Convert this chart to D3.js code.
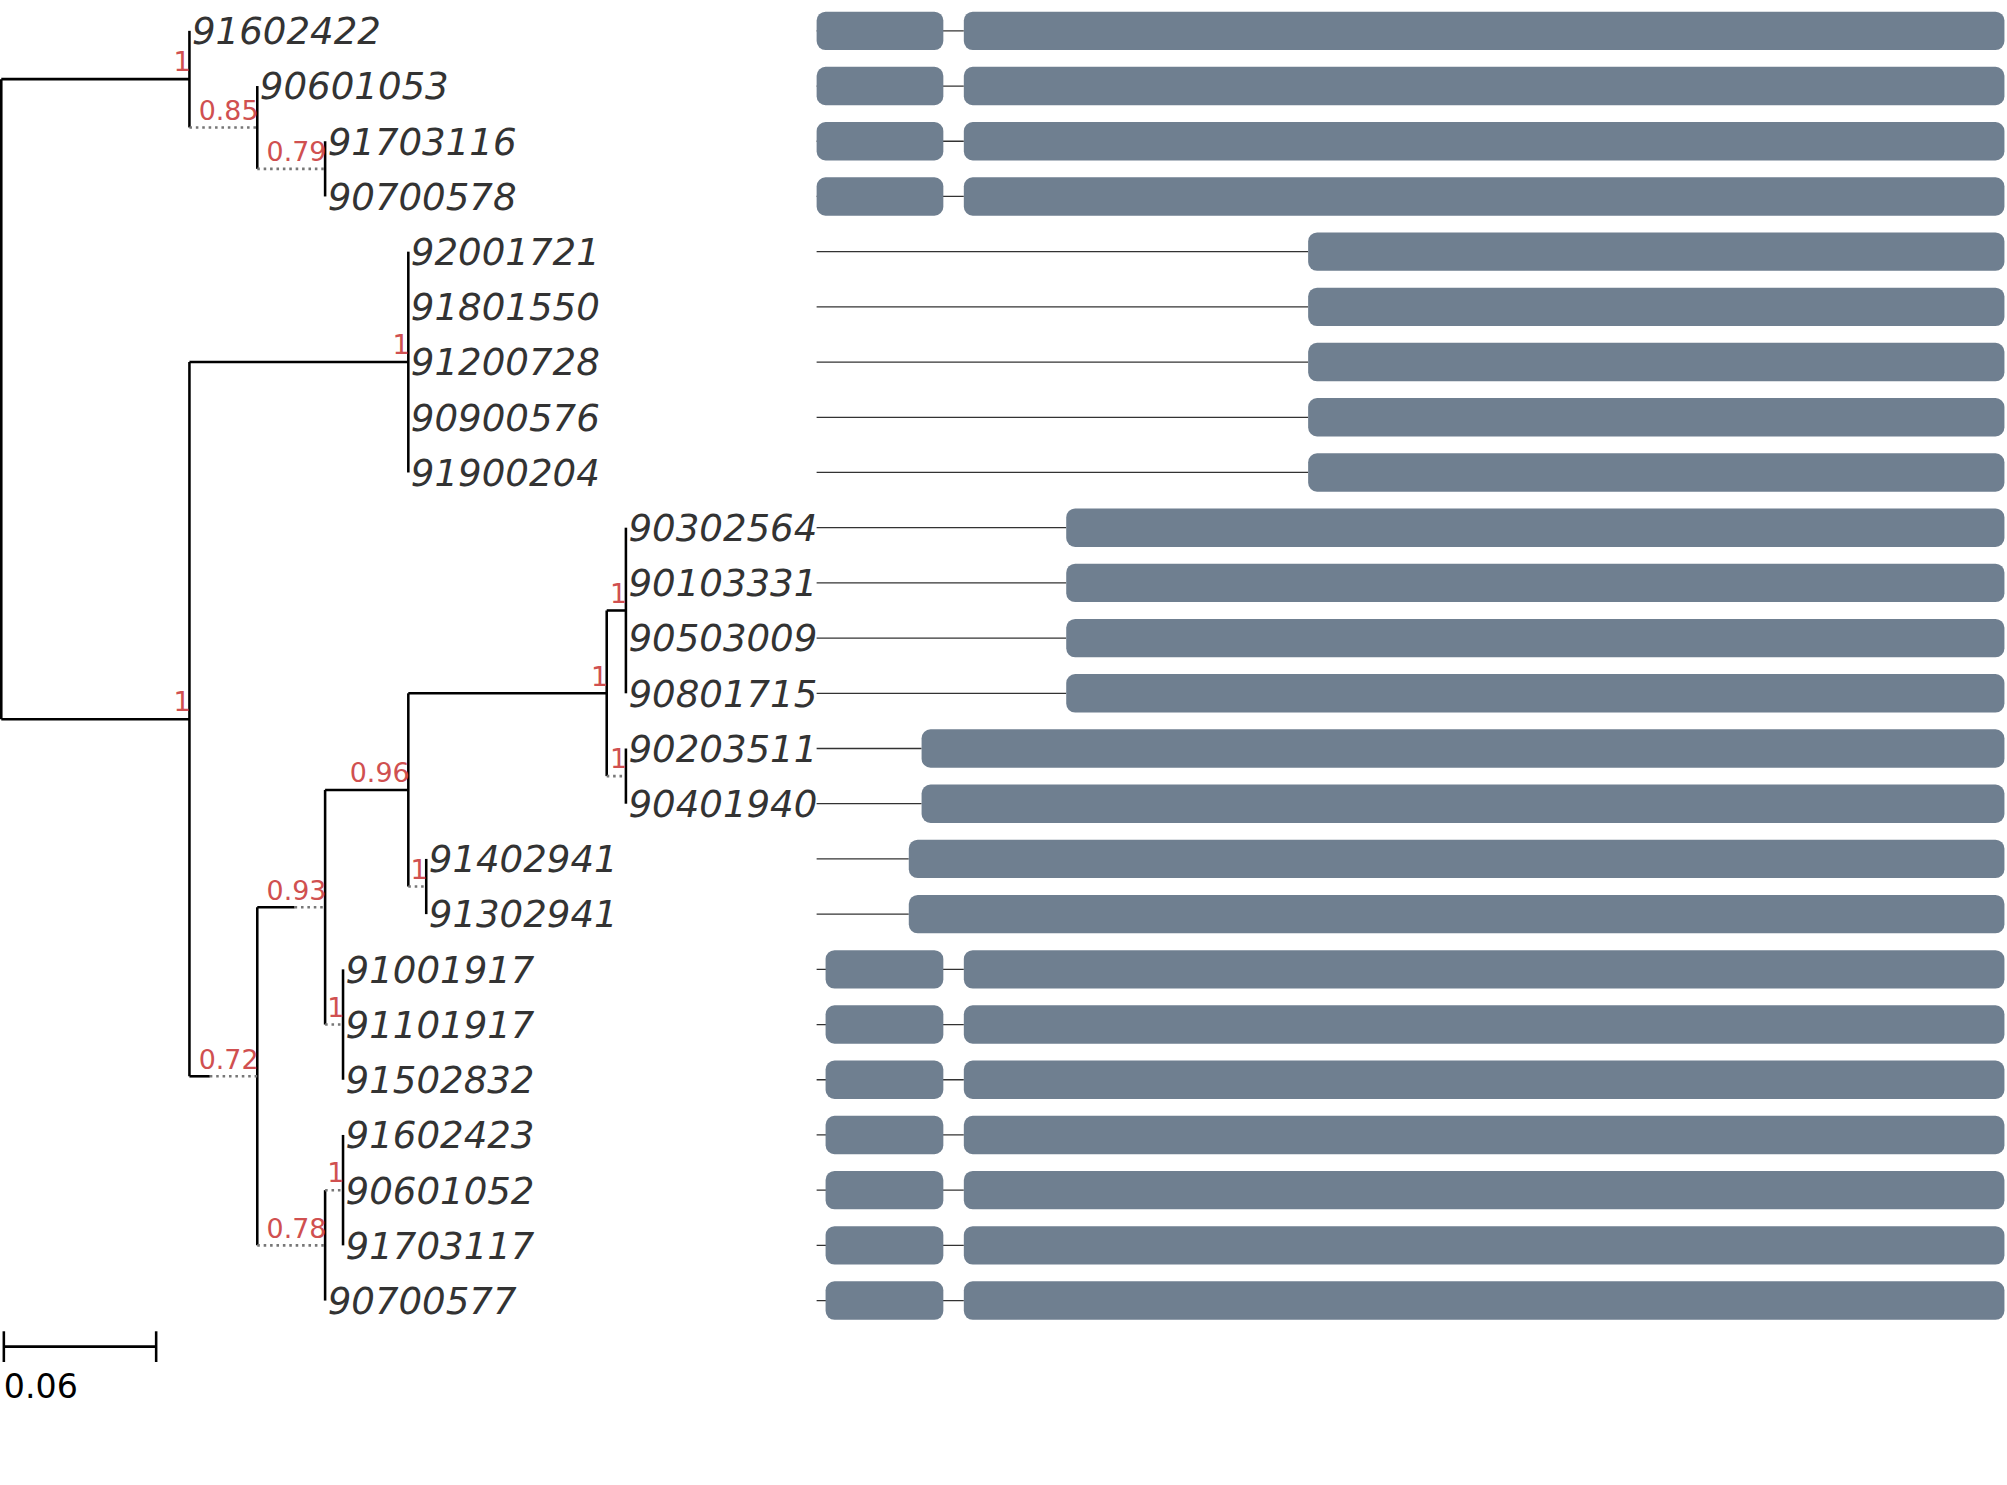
<!DOCTYPE html><html><head><meta charset="utf-8">
<script src="https://cdn.jsdelivr.net/npm/d3@7"></script>
<style>body{margin:0;background:#fff}</style></head><body>
<script>
// Tip order (top to bottom)
const tips=["91602422","90601053","91703116","90700578","92001721","91801550","91200728","90900576","91900204","90302564","90103331","90503009","90801715","90203511","90401940","91402941","91302941","91001917","91101917","91502832","91602423","90601052","91703117","90700577"];
// Tree: [name/support, branch length, children, dotted]
const tree={s:"",len:0,c:[
 {s:"1",len:0.0735,c:[{t:0,len:0},{s:"0.85",len:0.0265,dot:1,c:[{t:1,len:0},{s:"0.79",len:0.0265,dot:1,c:[{t:2,len:0},{t:3,len:0}]}]}]},
 {s:"1",len:0.0735,c:[
   {s:"1",len:0.0855,c:[{t:4,len:0},{t:5,len:0},{t:6,len:0},{t:7,len:0},{t:8,len:0}]},
   {s:"0.72",len:0.0265,dot:0.7,c:[
     {s:"0.93",len:0.0265,dot:0.45,c:[
       {s:"0.96",len:0.0325,c:[
         {s:"1",len:0.0775,c:[
           {s:"1",len:0.0075,c:[{t:9,len:0},{t:10,len:0},{t:11,len:0},{t:12,len:0}]},
           {s:"1",len:0.0075,dot:1,c:[{t:13,len:0},{t:14,len:0}]}]},
         {s:"1",len:0.007,dot:1,c:[{t:15,len:0},{t:16,len:0}]}]},
       {s:"1",len:0.007,dot:1,c:[{t:17,len:0},{t:18,len:0},{t:19,len:0}]}]},
     {s:"0.78",len:0.0265,dot:1,c:[
       {s:"1",len:0.007,dot:1,c:[{t:20,len:0},{t:21,len:0},{t:22,len:0}]},
       {t:23,len:0}]}]}]}]};
// Gene segments per tip, in track units (0..928)
const geneTypeA=[[0,99],[115,928]], geneTypeB=[[7,99],[115,928]];
const genes=[geneTypeA,geneTypeA,geneTypeA,geneTypeA,
 [[384,928]],[[384,928]],[[384,928]],[[384,928]],[[384,928]],
 [[195,928]],[[195,928]],[[195,928]],[[195,928]],
 [[82,928]],[[82,928]],[[72,928]],[[72,928]],
 geneTypeB,geneTypeB,geneTypeB,geneTypeB,geneTypeB,geneTypeB,geneTypeB];
const scaleBarValue=0.06;

const W=1568,H=1160;
const svg=d3.select("body").append("svg").attr("width",2007).attr("height",1485).attr("viewBox",`0 0 ${W} ${H}`);
const x=d3.scaleLinear().domain([0,0.06]).range([1,121]);
const y=d3.scaleLinear().domain([0,23]).range([24,1016]);
const gx=d3.scaleLinear().domain([0,928]).range([638,1566]);

const root=d3.hierarchy(tree,d=>d.c);
root.eachBefore(n=>{n.d=(n.parent?n.parent.d:0)+n.data.len;});
root.eachAfter(n=>{if(n.children){n.yy=(n.children[0].yy+n.children[n.children.length-1].yy)/2;}else n.yy=y(n.data.t);});
const g=svg.append("g");
root.each(n=>{
 if(n.children){
   g.append("line").attr("x1",x(n.d)).attr("x2",x(n.d)).attr("y1",n.children[0].yy).attr("y2",n.children[n.children.length-1].yy).attr("stroke","#000").attr("stroke-width",2);
 }
 if(n.parent&&n.data.len>0){
   const x0=x(n.parent.d),x1=x(n.d);
   if(n.data.dot){
     const xm=x0+(x1-x0)*(1-n.data.dot);
     if(xm>x0) g.append("line").attr("x1",x0).attr("x2",xm).attr("y1",n.yy).attr("y2",n.yy).attr("stroke","#000").attr("stroke-width",2);
     g.append("line").attr("x1",xm).attr("x2",x1).attr("y1",n.yy).attr("y2",n.yy).attr("stroke","#777").attr("stroke-width",2).attr("stroke-dasharray","2,3");
   } else g.append("line").attr("x1",x0).attr("x2",x1).attr("y1",n.yy).attr("y2",n.yy).attr("stroke","#000").attr("stroke-width",2);
 }
 if(n.children&&n.data.s){
   g.append("text").attr("x",x(n.d)+1).attr("y",n.yy-6).attr("text-anchor","end").attr("fill","#d05050").attr("font-family","DejaVu Sans").attr("font-size",21).text(n.data.s);
 }
});
root.leaves().forEach(n=>{
 g.append("text").attr("x",x(n.d)+2).attr("y",n.yy).attr("dy","0.36em").attr("font-family","DejaVu Sans").attr("font-style","italic").attr("font-size",29).attr("fill","#333").attr("textLength",null).text(tips[n.data.t]);
});
// genes
const gg=svg.append("g");
genes.forEach((segs,i)=>{
 const yy=y(i);
 gg.append("line").attr("x1",gx(0)).attr("x2",gx(segs[segs.length-1][0])).attr("y1",yy).attr("y2",yy).attr("stroke","#333").attr("stroke-width",1);
 segs.forEach(s=>gg.append("rect").attr("x",gx(s[0])).attr("width",gx(s[1])-gx(s[0])).attr("y",yy-15).attr("height",30).attr("rx",7).attr("fill","#6f7f90"));
});
// scale bar
const sb=svg.append("g");
sb.append("line").attr("x1",x(0)+2).attr("x2",x(scaleBarValue)+1).attr("y1",1052).attr("y2",1052).attr("stroke","#000").attr("stroke-width",2);
[x(0)+2,x(scaleBarValue)+1].forEach(v=>sb.append("line").attr("x1",v).attr("x2",v).attr("y1",1040).attr("y2",1064).attr("stroke","#000").attr("stroke-width",2));
sb.append("text").attr("x",3).attr("y",1092).attr("font-family","DejaVu Sans").attr("font-size",26).text(scaleBarValue);
</script></body></html>
